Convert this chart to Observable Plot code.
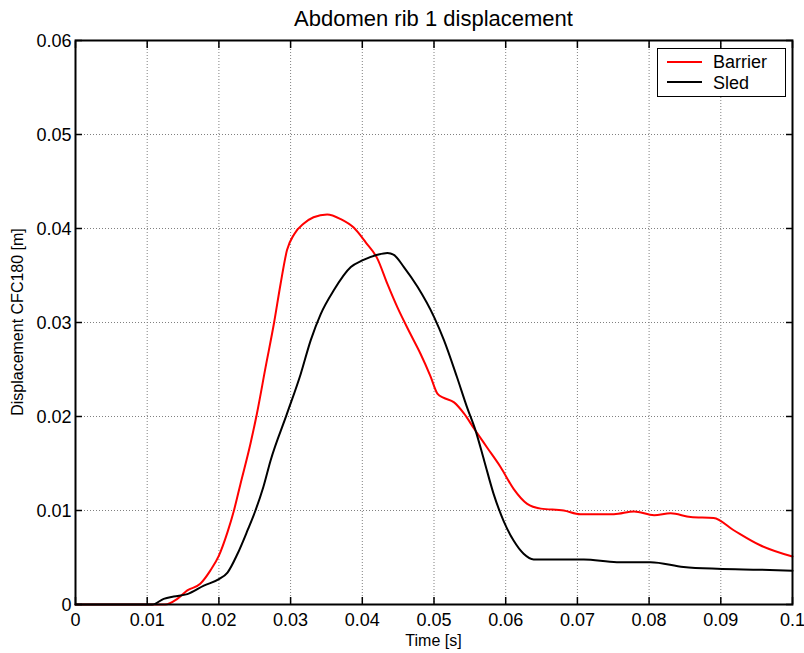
<!DOCTYPE html>
<html>
<head>
<meta charset="utf-8">
<script src="https://cdn.jsdelivr.net/npm/d3@7"></script>
<script src="https://cdn.jsdelivr.net/npm/@observablehq/plot@0.6"></script>
<style>
  html, body { margin: 0; padding: 0; background: #fff; }
  #wrap { position: relative; width: 804px; height: 653px; font-family: "Liberation Sans", Arial, Helvetica, sans-serif; color: #000; overflow: hidden; }
  #wrap svg { position: absolute; left: 0; top: 0; }
  .abs { position: absolute; white-space: nowrap; line-height: 1; }
</style>
</head>
<body>
<div id="wrap"></div>
<script>
// ---- Data ----
const titleText = "Abdomen rib 1 displacement";
const xLabel = "Time [s]";
const yLabel = "Displacement CFC180 [m]";
const seriesNames = ["Barrier", "Sled"];
const seriesColors = ["#ff0000", "#000000"];

const xTicks = [0, 0.01, 0.02, 0.03, 0.04, 0.05, 0.06, 0.07, 0.08, 0.09, 0.1];
const yTicks = [0, 0.01, 0.02, 0.03, 0.04, 0.05, 0.06];

const barrierT = [0, 0.005, 0.010, 0.0125, 0.0142, 0.0156, 0.0174, 0.0188, 0.0200, 0.0212, 0.0221, 0.0230,
  0.0244, 0.0253, 0.0265, 0.0277, 0.0286, 0.0295, 0.0305, 0.0318, 0.0332, 0.0351, 0.0370, 0.0388,
  0.0405, 0.0421, 0.0435, 0.0449, 0.0467, 0.0481, 0.0495, 0.0505, 0.0513, 0.0528, 0.0542, 0.0556,
  0.0574, 0.0593, 0.0611, 0.0630, 0.0649, 0.0681, 0.0704, 0.0751, 0.0779, 0.0807, 0.0830, 0.0858,
  0.0890, 0.0918, 0.0955, 0.1000];
const barrierV = [0, 0, 0, 0, 0.0006, 0.0015, 0.0022, 0.0036, 0.0052, 0.0077, 0.0100, 0.0128,
  0.0171, 0.0203, 0.0252, 0.0300, 0.0341, 0.0377, 0.0394, 0.0405, 0.0412, 0.0415, 0.0410, 0.0401,
  0.0385, 0.0368, 0.0341, 0.0316, 0.0288, 0.0267, 0.0243, 0.0224, 0.0220, 0.0215, 0.0203, 0.0187,
  0.0167, 0.0146, 0.0123, 0.0107, 0.0102, 0.0100, 0.0096, 0.0096, 0.0099, 0.0095, 0.0097, 0.0093,
  0.0092, 0.0079, 0.0063, 0.0051];

const sledT = [0, 0.010, 0.0107, 0.0123, 0.0137, 0.0156, 0.0179, 0.0200, 0.0212, 0.0226, 0.0240, 0.0251,
  0.0262, 0.0272, 0.0295, 0.0314, 0.0328, 0.0342, 0.0360, 0.0384, 0.0400, 0.0421, 0.0435, 0.0444,
  0.0458, 0.0477, 0.0500, 0.0514, 0.0532, 0.0546, 0.0558, 0.0570, 0.0583, 0.0597, 0.0611, 0.0625,
  0.0639, 0.0709, 0.0755, 0.0802, 0.0848, 0.0895, 0.0955, 0.1000];
const sledV = [0, 0, 0, 0.0006, 0.00085, 0.0011, 0.0020, 0.0027, 0.0034, 0.0054, 0.0079, 0.0100,
  0.0125, 0.0153, 0.0203, 0.0245, 0.0281, 0.0309, 0.0334, 0.0359, 0.0366, 0.0372, 0.0374, 0.0372,
  0.0359, 0.0338, 0.0306, 0.0281, 0.0242, 0.0210, 0.0185, 0.0153, 0.0118, 0.0089, 0.0068, 0.0054,
  0.0048, 0.0048, 0.0045, 0.0045, 0.0040, 0.0038, 0.0037, 0.0036];

// ---- Build table ----
const rows = [
  ...barrierT.map((t, i) => ({series: seriesNames[0], t, v: barrierV[i]})),
  ...sledT.map((t, i) => ({series: seriesNames[1], t, v: sledV[i]}))
];

const fmt = d => String(+d.toFixed(2));
const innerX = xTicks.slice(1, -1);
const innerY = yTicks.slice(1, -1);

const W = 804, H = 653;
const M = {left: 75, right: 12, top: 40, bottom: 49};

const chart = Plot.plot({
  width: W,
  height: H,
  marginLeft: M.left,
  marginRight: M.right,
  marginTop: M.top,
  marginBottom: M.bottom,
  style: {fontFamily: '"Liberation Sans", Arial, Helvetica, sans-serif', fontSize: "18px", color: "#000", background: "transparent", overflow: "visible"},
  x: {domain: [0, 0.1]},
  y: {domain: [0, 0.06]},
  color: {domain: seriesNames, range: seriesColors},
  marks: [
    Plot.gridX(innerX, {stroke: "#808080", strokeOpacity: 1, strokeWidth: 1, strokeDasharray: "1,2"}),
    Plot.gridY(innerY, {stroke: "#808080", strokeOpacity: 1, strokeWidth: 1, strokeDasharray: "1,2"}),
    Plot.line(rows, {x: "t", y: "v", z: "series", stroke: "series", strokeWidth: 2, curve: "monotone-x"}),
    Plot.frame({stroke: "#000", strokeWidth: 2}),
    Plot.axisX(xTicks, {anchor: "bottom", tickSize: -7, tickFormat: () => "", label: null, strokeWidth: 1.5}),
    Plot.axisX(xTicks, {anchor: "top", tickSize: -7, tickFormat: () => "", label: null, strokeWidth: 1.5}),
    Plot.axisY(yTicks, {anchor: "left", tickSize: -7, tickFormat: () => "", label: null, strokeWidth: 1.5}),
    Plot.axisY(yTicks, {anchor: "right", tickSize: -7, tickFormat: () => "", label: null, strokeWidth: 1.5}),
    Plot.axisX(xTicks, {anchor: "bottom", tickSize: 0, tickPadding: 9, tickFormat: fmt, label: null, fontSize: 18}),
    Plot.axisY(yTicks, {anchor: "left", tickSize: 0, tickPadding: 4, tickFormat: fmt, label: null, fontSize: 18, dy: 1})
  ]
});

const wrap = document.getElementById("wrap");
wrap.appendChild(chart);

function addText(txt, css) {
  const d = document.createElement("div");
  d.className = "abs";
  d.textContent = txt;
  Object.assign(d.style, css);
  wrap.appendChild(d);
  return d;
}

// Title
addText(titleText, {left: "0px", width: (M.left + (W - M.right)) + "px", textAlign: "center", top: "8px", fontSize: "22px"});
// X label
addText(xLabel, {left: ((M.left + W - M.right) / 2) + "px", top: "641px", fontSize: "16px", transform: "translate(-50%,-50%)"});
// Y label
addText(yLabel, {left: "18px", top: ((M.top + H - M.bottom) / 2) + "px", fontSize: "16px", transform: "translate(-50%,-50%) rotate(-90deg)"});

// Legend
const box = document.createElement("div");
Object.assign(box.style, {position: "absolute", left: "657px", top: "48px", width: "129px", height: "49px", border: "1.5px solid #000", boxSizing: "border-box", background: "#fff"});
wrap.appendChild(box);
const rowsY = [61.5, 82.3];
const baseY = [53, 74];
seriesNames.forEach((name, i) => {
  const ln = document.createElement("div");
  Object.assign(ln.style, {position: "absolute", left: "667px", top: (rowsY[i] - 1) + "px", width: "35px", height: "2px", background: seriesColors[i]});
  wrap.appendChild(ln);
  addText(name, {left: "713px", top: baseY[i] + "px", fontSize: "18px"});
});
</script>
</body>
</html>
